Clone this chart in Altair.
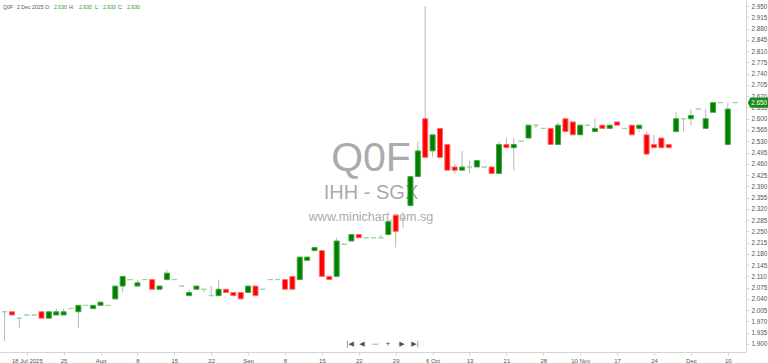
import altair as alt
import pandas as pd

# ---------------- data ----------------
opens = [2.00, 2.00, 1.98, 1.99, 1.99, 2.00, 1.98, 1.99, 1.99, 2.01,
         2.00, 2.02, 2.01, 2.02, 2.02, 2.04, 2.08, 2.10, 2.08, 2.10,
         2.10, 2.07, 2.10, 2.10, 2.08, 2.05, 2.07, 2.07, 2.05, 2.05,
         2.07, 2.06, 2.06, 2.06, 2.08, 2.07, 2.10, 2.10, 2.10, 2.11,
         2.10, 2.16, 2.19, 2.19, 2.11, 2.11, 2.21, 2.22, 2.24, 2.23,
         2.23, 2.23, 2.24, 2.30, 2.29, 2.33, 2.42, 2.60, 2.50, 2.57,
         2.52, 2.45, 2.44, 2.45, 2.45, 2.45, 2.45, 2.43, 2.52, 2.51,
         2.53, 2.54, 2.58, 2.57, 2.57, 2.52, 2.60, 2.59, 2.55, 2.58,
         2.56, 2.58, 2.57, 2.59, 2.57, 2.58, 2.57, 2.55, 2.52, 2.54,
         2.52, 2.56, 2.60, 2.60, 2.63, 2.57, 2.62, 2.65, 2.52, 2.65]
highs = [2.00, 2.00, 1.98, 1.99, 1.99, 2.00, 2.00, 2.01, 2.01, 2.01,
         2.02, 2.02, 2.02, 2.03, 2.02, 2.08, 2.11, 2.10, 2.10, 2.10,
         2.10, 2.08, 2.13, 2.10, 2.08, 2.07, 2.08, 2.07, 2.08, 2.10,
         2.07, 2.06, 2.06, 2.08, 2.08, 2.07, 2.10, 2.10, 2.10, 2.11,
         2.17, 2.17, 2.20, 2.19, 2.11, 2.23, 2.21, 2.24, 2.24, 2.23,
         2.23, 2.24, 2.28, 2.30, 2.31, 2.42, 2.53, 2.95, 2.55, 2.57,
         2.52, 2.46, 2.50, 2.47, 2.47, 2.45, 2.45, 2.53, 2.54, 2.54,
         2.53, 2.58, 2.58, 2.57, 2.57, 2.59, 2.60, 2.59, 2.58, 2.58,
         2.60, 2.58, 2.58, 2.59, 2.57, 2.58, 2.58, 2.56, 2.55, 2.54,
         2.52, 2.62, 2.60, 2.63, 2.63, 2.63, 2.65, 2.65, 2.65, 2.65]
lows = [1.91, 1.99, 1.95, 1.99, 1.99, 1.98, 1.98, 1.99, 1.99, 2.01,
        1.95, 2.02, 2.01, 2.02, 2.02, 2.04, 2.06, 2.10, 2.08, 2.10,
        2.07, 2.07, 2.10, 2.10, 2.08, 2.05, 2.07, 2.06, 2.05, 2.05,
        2.06, 2.05, 2.04, 2.06, 2.05, 2.07, 2.10, 2.10, 2.07, 2.07,
        2.10, 2.16, 2.19, 2.11, 2.10, 2.11, 2.21, 2.22, 2.23, 2.23,
        2.23, 2.23, 2.24, 2.20, 2.26, 2.33, 2.42, 2.48, 2.48, 2.48,
        2.44, 2.43, 2.44, 2.43, 2.45, 2.45, 2.43, 2.43, 2.51, 2.44,
        2.53, 2.54, 2.57, 2.57, 2.52, 2.52, 2.56, 2.55, 2.55, 2.58,
        2.56, 2.57, 2.57, 2.58, 2.57, 2.55, 2.56, 2.49, 2.51, 2.51,
        2.51, 2.56, 2.56, 2.58, 2.63, 2.57, 2.62, 2.65, 2.52, 2.65]
closes = [2.00, 1.99, 1.98, 1.99, 1.99, 1.98, 2.00, 2.00, 2.00, 2.01,
          2.02, 2.02, 2.02, 2.03, 2.02, 2.08, 2.11, 2.10, 2.09, 2.10,
          2.07, 2.08, 2.12, 2.10, 2.08, 2.06, 2.08, 2.07, 2.05, 2.07,
          2.06, 2.05, 2.04, 2.08, 2.05, 2.07, 2.10, 2.10, 2.07, 2.07,
          2.17, 2.17, 2.20, 2.11, 2.10, 2.22, 2.21, 2.24, 2.23, 2.23,
          2.23, 2.23, 2.28, 2.25, 2.29, 2.42, 2.50, 2.48, 2.55, 2.48,
          2.44, 2.44, 2.45, 2.45, 2.47, 2.45, 2.43, 2.52, 2.51, 2.52,
          2.53, 2.58, 2.58, 2.57, 2.52, 2.58, 2.56, 2.55, 2.58, 2.58,
          2.57, 2.57, 2.58, 2.58, 2.57, 2.55, 2.58, 2.49, 2.51, 2.51,
          2.51, 2.60, 2.60, 2.61, 2.63, 2.60, 2.65, 2.65, 2.63, 2.65]

tick_positions = [3, 8, 13, 18, 23, 28, 33, 38, 43, 48,
                  53, 58, 63, 68, 73, 78, 83, 88, 93, 98]
tick_labels = ["18 Jul 2025", "25", "Aug", "8", "15", "22", "Sep", "8", "15", "22",
               "29", "6 Oct", "13", "21", "28", "10 Nov", "17", "24", "Dec", "10"]
price_ticks = [round(1.900 + 0.035 * k, 3) for k in range(31)]

symbol = "Q0F"
company = "IHH - SGX"
site = "www.minichart.com.sg"
header_date = "2 Dec 2025"
header_index = 94

# ---------------- table ----------------
n = len(opens)
df = pd.DataFrame({"i": list(range(n)), "o": opens, "h": highs, "l": lows, "c": closes})
df["lo"] = df[["o", "c"]].min(axis=1)
df["hi"] = df[["o", "c"]].max(axis=1)
df["dir"] = ["up" if c > o else ("down" if c < o else "flat") for o, c in zip(opens, closes)]

FONT = "Liberation Sans"
xscale = alt.Scale(domain=[-0.62, 100.47], nice=False, zero=False, padding=0)
yscale = alt.Scale(domain=[1.875, 2.969], nice=False, zero=False, padding=0)

lab_arr = "[" + ",".join("'%s'" % t for t in tick_labels) + "]"
pos_arr = "[" + ",".join(str(p) for p in tick_positions) + "]"
xaxis = alt.Axis(values=tick_positions, labelExpr=f"{lab_arr}[indexof({pos_arr}, datum.value)]",
                 title=None, grid=False, domainColor="#d4d4d4", tickColor="#d4d4d4",
                 tickSize=3, labelFontSize=6, labelColor="#555555", labelFont=FONT,
                 labelPadding=2, labelFlush=False, labelOverlap=False)
yaxis = alt.Axis(orient="right", values=price_ticks, format=".3f", title=None, grid=False,
                 domainColor="#d4d4d4", tickColor="#d4d4d4", tickSize=3,
                 labelFontSize=6.3, labelColor="#555555", labelFont=FONT,
                 labelPadding=2, labelOverlap=False, labelFlush=False)

X = alt.X("i:Q", scale=xscale, axis=xaxis)
base = alt.Chart(df)

# watermark
wm = []
for txt, y, fs in [(symbol, 171, 41), (company, 199, 20), (site, 221, 12.5)]:
    wm.append(alt.Chart(pd.DataFrame({"t": [txt]})).mark_text(
        font=FONT, fontSize=fs, color="#ababab", align="center", baseline="alphabetic"
    ).encode(x=alt.value(371), y=alt.value(y), text="t:N"))

wicks = base.transform_filter("datum.h > datum.l").mark_rule(
    color="#b8b8b8", strokeWidth=1
).encode(x=X, y=alt.Y("l:Q", scale=yscale, axis=yaxis), y2="h:Q")

dirs = ["up", "down", "flat"]
bodies = base.mark_bar(size=5, strokeWidth=1).encode(
    x=X,
    y=alt.Y("lo:Q", scale=yscale, axis=yaxis),
    y2="hi:Q",
    fill=alt.Fill("dir:N", scale=alt.Scale(domain=dirs, range=["#008000", "#ff0000", "#9ad49a"]), legend=None),
    stroke=alt.Stroke("dir:N", scale=alt.Scale(domain=dirs, range=["#43a843", "#ff6a6a", "#9ad49a"]), legend=None),
)

# header (crosshair read-out)
row = df.iloc[header_index]
header_parts = [
    (symbol, 3, "#555555"), (header_date, 17, "#555555"),
    ("O:", 45, "#555555"), ("%.3f" % row["o"], 54, "#2e9a2e"),
    ("H:", 69, "#555555"), ("%.3f" % row["h"], 79, "#2e9a2e"),
    ("L:", 95, "#555555"), ("%.3f" % row["l"], 103, "#2e9a2e"),
    ("C:", 118, "#555555"), ("%.3f" % row["c"], 127, "#2e9a2e"),
]
header = []
for txt, x, col in header_parts:
    header.append(alt.Chart(pd.DataFrame({"t": [txt]})).mark_text(
        font=FONT, fontSize=5.2, color=col, align="left", baseline="middle"
    ).encode(x=alt.value(x), y=alt.value(7), text="t:N"))

# navigation buttons
nav = []
for txt, x in [("|◀", 350), ("◀", 362), ("—", 375), ("+", 388), ("▶", 402), ("▶|", 415)]:
    nav.append(alt.Chart(pd.DataFrame({"t": [txt]})).mark_text(
        font="DejaVu Sans", fontSize=7, color="#555555", align="center", baseline="middle"
    ).encode(x=alt.value(x), y=alt.value(344), text="t:N"))

# last price tag
last = df.tail(1).copy()
last["lbl"] = ["%.3f" % v for v in last["c"]]
tag = alt.Chart(last).mark_point(
    shape="M-1,0 L-0.75,-0.5 L1,-0.5 L1,0.5 L-0.75,0.5 Z", size=420, filled=True,
    color="#1a8a1a", opacity=1
).encode(x=alt.value(758), y=alt.Y("c:Q", scale=yscale, axis=yaxis))
tag_text = alt.Chart(last).mark_text(
    font=FONT, fontSize=6.3, color="white", align="center", baseline="middle"
).encode(x=alt.value(759), y=alt.Y("c:Q", scale=yscale, axis=yaxis), text="lbl:N")

chart = alt.layer(*wm, wicks, bodies, *header, *nav, tag, tag_text).properties(
    width=746, height=352,
    autosize=alt.AutoSizeParams(type="none"),
    padding={"left": 0, "top": 0, "right": 22, "bottom": 11},
    background="white",
).configure_view(stroke=None)

chart.save("out.html", embed_options={"renderer": "svg", "actions": False})
